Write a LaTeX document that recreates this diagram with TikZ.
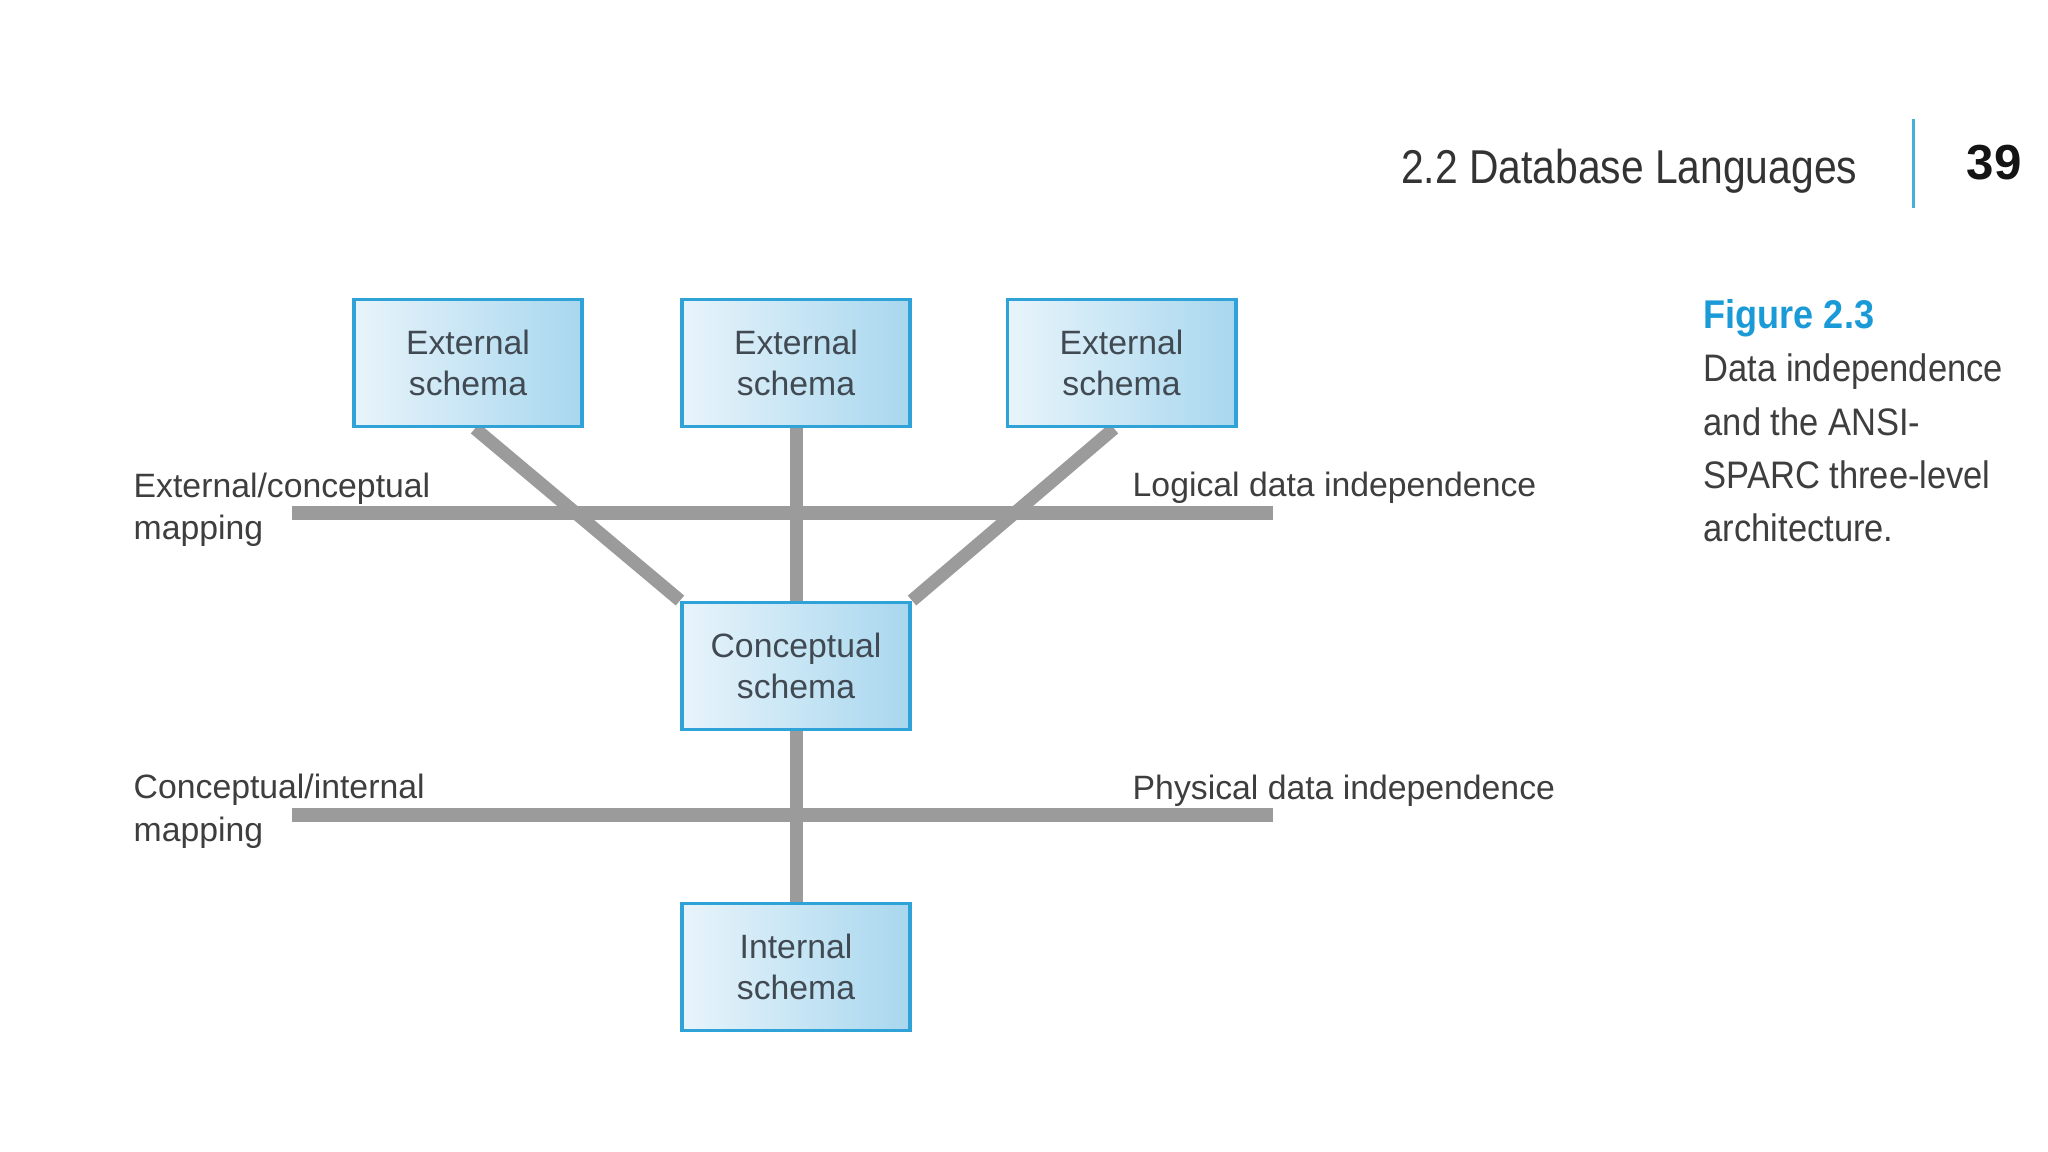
\documentclass[tikz,border=0pt]{standalone}
\usepackage{fontspec}
\setmainfont{Liberation Sans}
\newfontfamily\headfont[FakeStretch=0.86]{Liberation Sans}
\newfontfamily\capfont[FakeStretch=0.9]{Liberation Sans}
\usetikzlibrary{backgrounds}
\definecolor{boxB}{HTML}{2FA2D8}
\definecolor{boxL}{HTML}{E8F4FB}
\definecolor{boxR}{HTML}{A8D7EE}
\definecolor{boxT}{HTML}{414A52}
\definecolor{lineG}{HTML}{9B9B9B}
\definecolor{txtG}{HTML}{3E3E3E}
\definecolor{hdrT}{HTML}{333333}
\definecolor{figB}{HTML}{1A9BD7}
\definecolor{barB}{HTML}{45B0DC}
\begin{document}
\begin{tikzpicture}[x=0.01cm,y=-0.01cm,
  schemabox/.style={draw=boxB, line width=1.1pt, left color=boxL, right color=boxR,
    minimum width=2.28cm, minimum height=1.27cm, inner sep=0pt, align=center,
    font=\fontsize{9.6}{11.8}\selectfont, text=boxT},
  mapline/.style={draw=lineG, line width=3.7pt},
  lbl/.style={align=left, inner sep=0pt, font=\fontsize{9.6}{12}\selectfont, text=txtG}]
\useasboundingbox (0,0) rectangle (2048,1152);
% boxes
\node[schemabox] (ext1) at (468,363) {External\\schema};
\node[schemabox] (ext2) at (796,363) {External\\schema};
\node[schemabox] (ext3) at (1121.5,363) {External\\schema};
\node[schemabox] (conc) at (796,666) {Conceptual\\schema};
\node[schemabox] (int) at (796,967) {Internal\\schema};
% mapping line end points
\coordinate (m1l) at (292,513);
\coordinate (m1r) at (1273,513);
\coordinate (m2l) at (292,815);
\coordinate (m2r) at (1273,815);
% labels (base = last line)
\node[lbl, anchor=base west] (ecm) at (133,540) {External/conceptual\\mapping};
\node[lbl, anchor=base west] (ldi) at (1132,497) {Logical data independence};
\node[lbl, anchor=base west] (cim) at (133,841) {Conceptual/internal\\mapping};
\node[lbl, anchor=base west] (pdi) at (1132,799) {Physical data independence};
% header
\node[anchor=base east, inner sep=0pt, font=\headfont\fontsize{13.5}{16}\selectfont, text=hdrT] (hdr) at (1858,184) {2.2 Database Languages};
\coordinate (bt) at (1913,119);
\coordinate (bb) at (1913,208);
\draw[barB, line width=0.85pt] (bt) -- (bb);
\node[anchor=base west, inner sep=0pt, font=\bfseries\fontsize{14}{16}\selectfont, text=black!92] (pg) at (1966,180) {39};
% caption
\node[anchor=base west, align=left, inner sep=0pt, font=\capfont\fontsize{10.9}{15.2}\selectfont, text=txtG] (cap) at (1703,542)
  {{\fontsize{11.4}{15.2}\selectfont\bfseries\color{figB}Figure 2.3}\\Data independence\\and the ANSI-\\SPARC three-level\\architecture.};
\begin{scope}[on background layer]
\fill[white] (0,0) rectangle (2048,1152);
\draw[mapline] (m1l) -- (m1r);
\draw[mapline] (m2l) -- (m2r);
\draw[mapline] ([xshift=0.07cm]ext1.south) -- (conc.north west);
\draw[mapline] ([xshift=-0.075cm]ext3.south) -- (conc.north east);
\draw[mapline] (ext2.south) -- (conc.north);
\draw[mapline] (conc.south) -- (int.north);
\end{scope}
\end{tikzpicture}
\end{document}
